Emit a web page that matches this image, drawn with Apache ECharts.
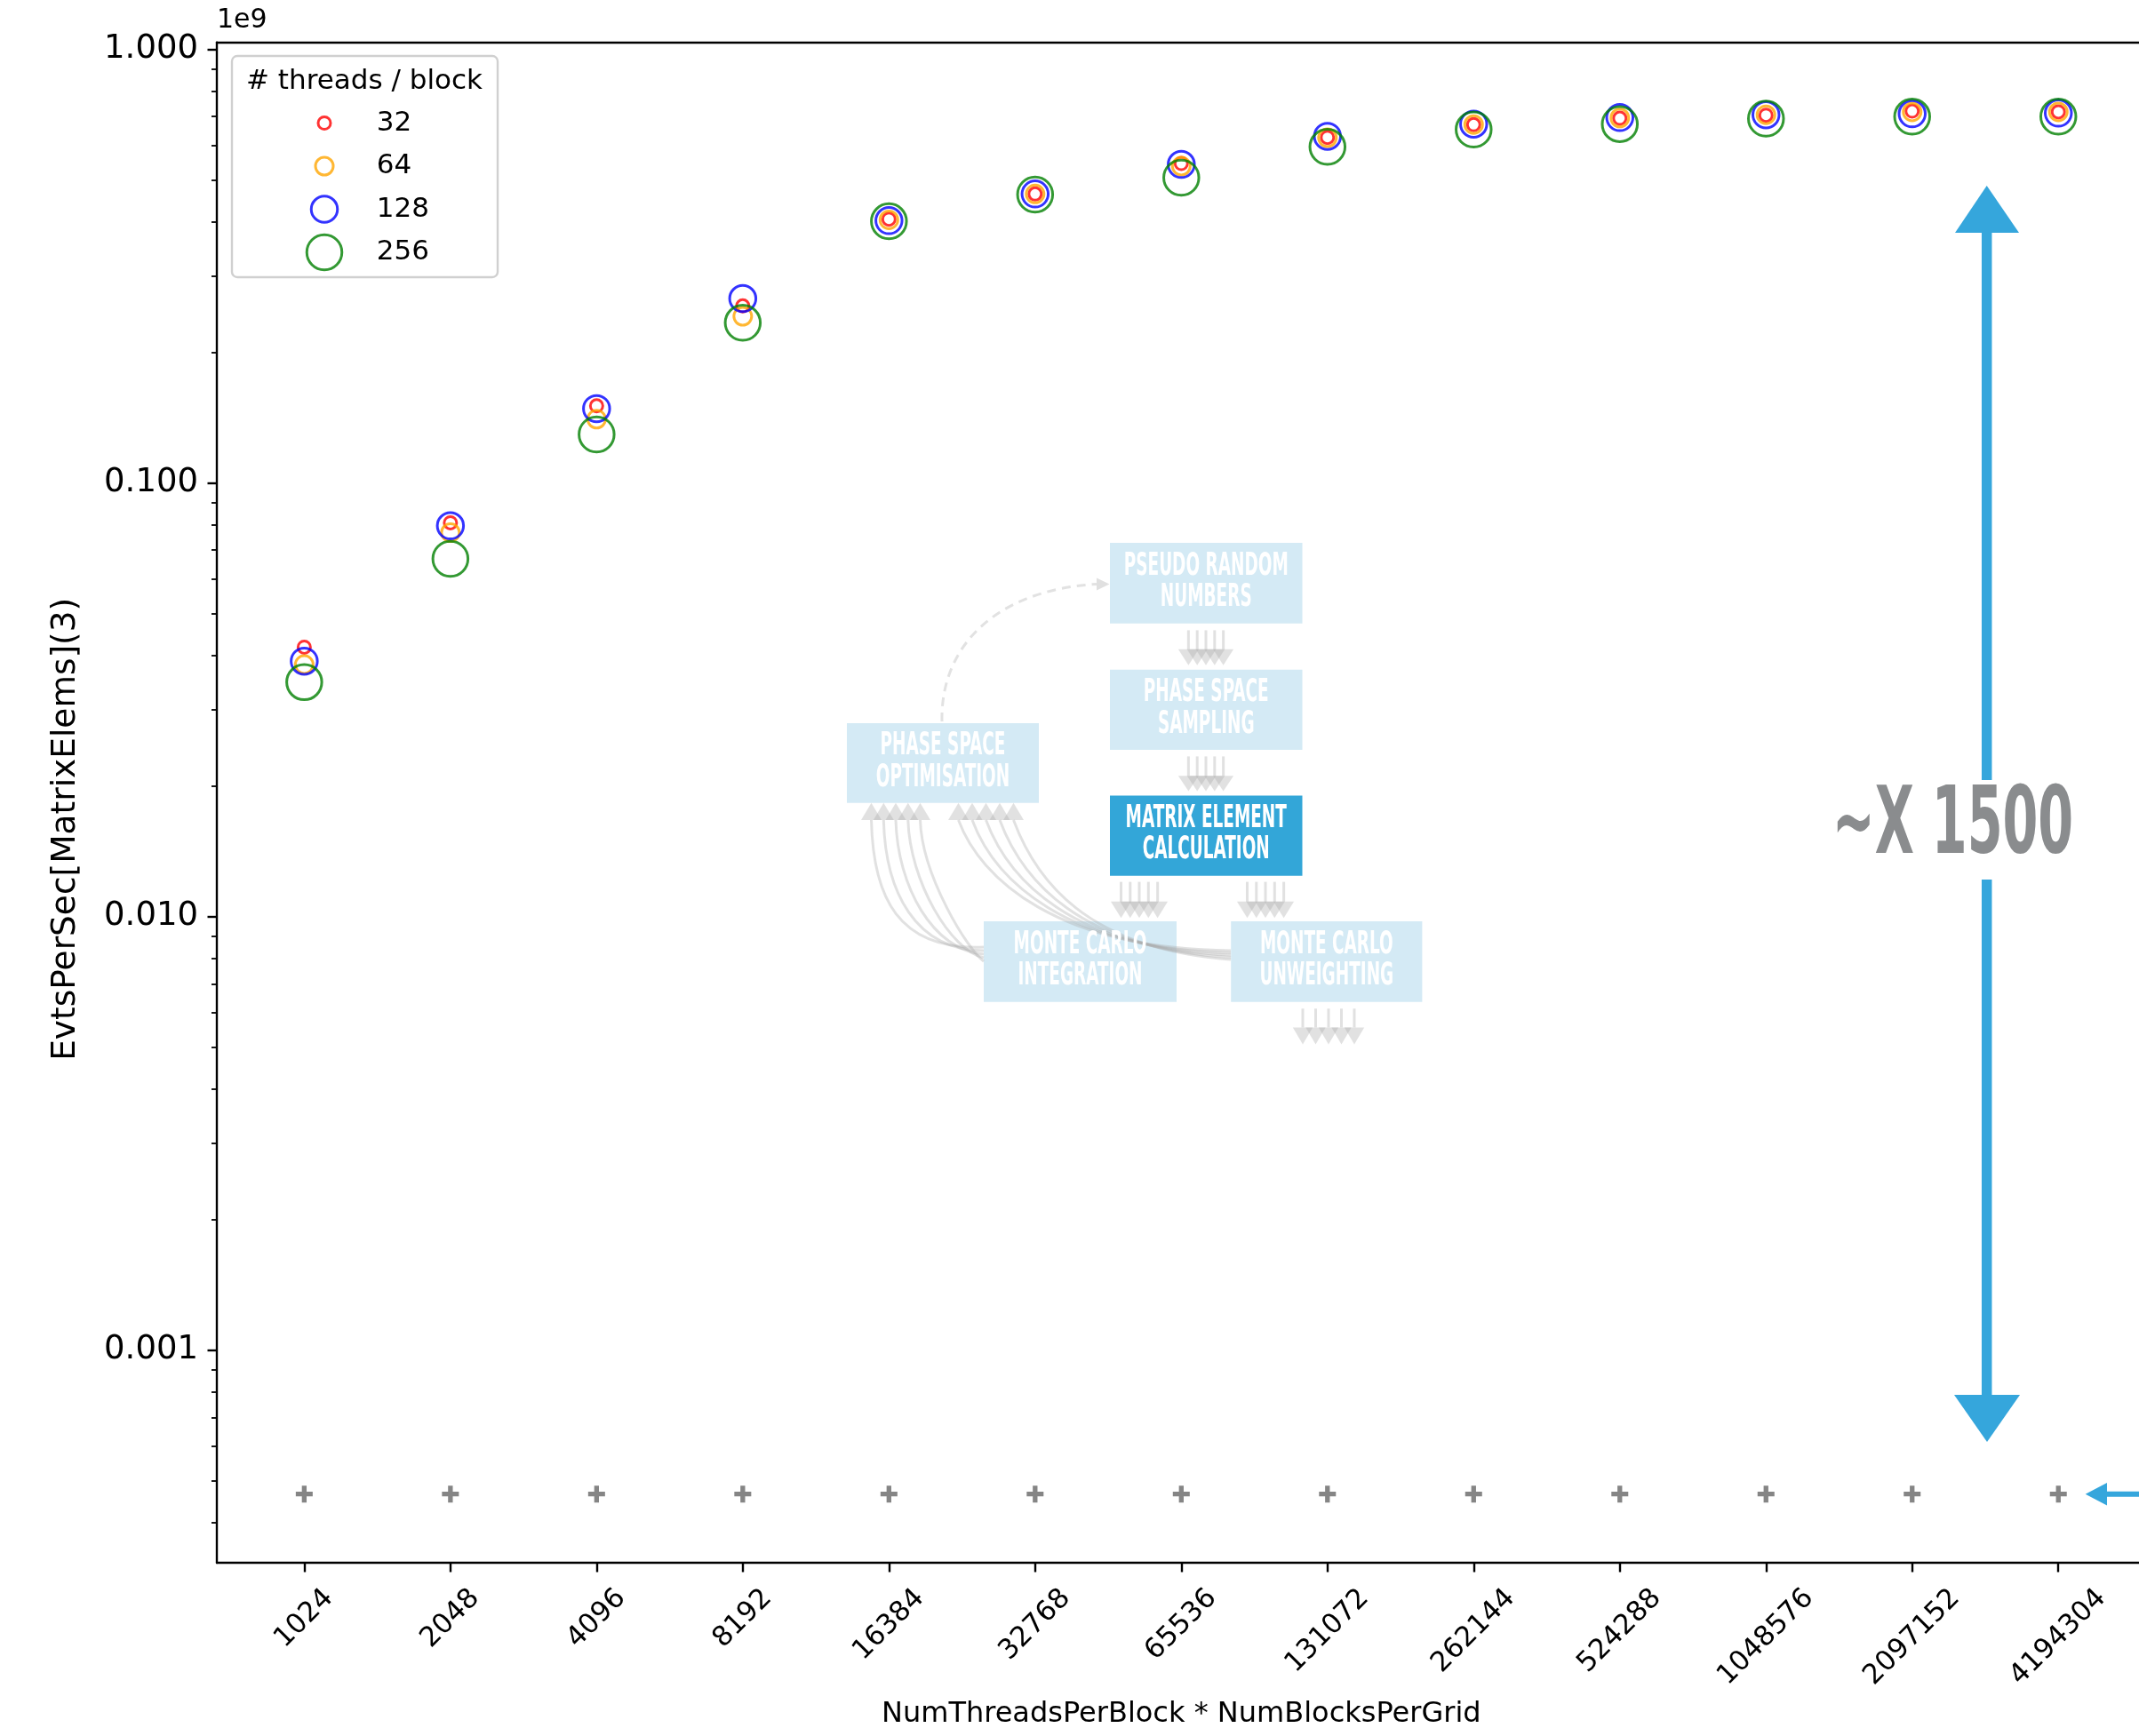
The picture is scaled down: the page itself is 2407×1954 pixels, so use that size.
<!DOCTYPE html>
<html>
<head>
<meta charset="utf-8">
<script src="https://cdn.jsdelivr.net/npm/echarts@6/dist/echarts.min.js"></script>
<style>
html, body { margin: 0; padding: 0; background: #fff; }
#main { width: 2407px; height: 1954px; }
</style>
</head>
<body>
<div id="main"></div>
<script>
// problem sizes (NumThreadsPerBlock * NumBlocksPerGrid)
var categories = ['1024', '2048', '4096', '8192', '16384', '32768', '65536',
  '131072', '262144', '524288', '1048576', '2097152', '4194304'];

// EvtsPerSec[MatrixElems](3), in units of 1e9, one list per threads/block
var evts32  = [0.0418, 0.0809, 0.1505, 0.2558, 0.4054, 0.4634, 0.5447, 0.6259, 0.6696, 0.6931, 0.7040, 0.7196, 0.7166];
var evts64  = [0.0381, 0.0768, 0.1402, 0.2421, 0.4040, 0.4634, 0.5372, 0.6248, 0.6700, 0.6940, 0.7056, 0.7168, 0.7168];
var evts128 = [0.0388, 0.0796, 0.1483, 0.2660, 0.4023, 0.4634, 0.5422, 0.6296, 0.6716, 0.6955, 0.7056, 0.7096, 0.7121];
var evts256 = [0.0347, 0.0668, 0.1293, 0.2339, 0.4010, 0.4620, 0.5054, 0.5952, 0.6526, 0.6716, 0.6915, 0.6987, 0.6990];
// single-thread CPU reference (the "+" row)
var evtsCpu = [0.000466, 0.000466, 0.000466, 0.000466, 0.000466, 0.000466, 0.000466,
  0.000466, 0.000466, 0.000466, 0.000466, 0.000466, 0.000466];

var threadNames = ['32', '64', '128', '256'];
var yMajorTicks = [0.001, 0.01, 0.1, 1];
var yMinorTicks = [0.0004, 0.0005, 0.0006, 0.0007, 0.0008, 0.0009,
  0.002, 0.003, 0.004, 0.005, 0.006, 0.007, 0.008, 0.009,
  0.02, 0.03, 0.04, 0.05, 0.06, 0.07, 0.08, 0.09,
  0.2, 0.3, 0.4, 0.5, 0.6, 0.7, 0.8, 0.9];

var chart = echarts.init(document.getElementById('main'), null, { renderer: 'canvas' });

var FONT = 'DejaVu Sans';
var NARROW = '"DejaVu Sans Condensed", sans-serif';
var colors = ['#ff0000', '#ffa500', '#0000ff', '#008000'];
var sizes = [14, 20, 29.5, 39.5];
var seriesData = [evts32, evts64, evts128, evts256];

var xIdx = categories.map(function (c, i) { return i; });
var XMIN = -0.598, XMAX = 12.598;
var YMIN = 3.236e-4, YMAX = 1.037;

// shift longer rotated labels down so the tops line up (like matplotlib)
var rich = {};
[4, 5, 6, 7].forEach(function (n) {
  var p = 9.86 * (n - 4);
  rich['r' + n] = { fontSize: 31, fontFamily: FONT, color: '#000', padding: [p, p, 0, 0] };
});

var series = seriesData.map(function (arr, k) {
  return {
    type: 'scatter',
    name: threadNames[k],
    data: arr.map(function (v, i) { return [i, v]; }),
    symbol: 'circle',
    symbolSize: sizes[k],
    itemStyle: { color: 'rgba(0,0,0,0)', borderColor: colors[k], borderWidth: 3 },
    z: 3 + k
  };
});
series.push({
  type: 'scatter',
  name: 'cpu',
  data: evtsCpu.map(function (v, i) { return [i, v]; }),
  symbol: 'path://M3.6,0H6.4V3.6H10V6.4H6.4V10H3.6V6.4H0V3.6H3.6Z',
  symbolSize: 19,
  itemStyle: { color: '#666666' },
  z: 3
});

// legend: one component per entry so each circle keeps its own size
var legendRows = [138.5, 187, 235.5, 284];
var legends = threadNames.map(function (name, k) {
  var d = sizes[k];
  var h = Math.max(d + 3, 31);
  return {
    data: [{ name: name, icon: 'circle',
      itemStyle: { color: 'rgba(0,0,0,0)', borderColor: colors[k], borderWidth: 3 } }],
    left: 365 - d / 2 - 1.5,
    top: legendRows[k] - h / 2,
    padding: 0,
    itemWidth: d,
    itemHeight: d,
    selectedMode: false,
    textStyle: { fontSize: 31, fontFamily: FONT, color: '#000', lineHeight: 31,
      padding: [0, 0, 0, 53.7 - d / 2] }
  };
});

// ---- overlay drawing (workflow diagram + annotation) ----
var graphics = [];
var LIGHT = '#d4eaf5', DARK = '#33a6d8';
var ARROW_GREY = 'rgba(170,170,170,0.35)';

function box(x, y, w, h, fill, txt) {
  graphics.push({ type: 'rect', shape: { x: x, y: y, width: w, height: h },
    style: { fill: fill }, z: 10 });
  graphics.push({ type: 'text', x: x + w / 2, y: y + h / 2 - 1, scaleX: 0.82, scaleY: 1.4, z: 12,
    style: { text: txt, fill: '#ffffff', fontSize: 25, fontWeight: 'bold', fontFamily: NARROW,
      align: 'center', verticalAlign: 'middle', lineHeight: 25.2 } });
}
function arrowStack(xs, yTop, yBase, yTip, headW) {
  xs.forEach(function (x) {
    graphics.push({ type: 'line', shape: { x1: x, y1: yTop, x2: x, y2: yBase },
      style: { stroke: ARROW_GREY, lineWidth: 3 }, z: 11 });
    graphics.push({ type: 'polygon',
      shape: { points: [[x - headW / 2, yBase], [x + headW / 2, yBase], [x, yTip]] },
      style: { fill: ARROW_GREY }, z: 11 });
  });
}
function upHead(x, yTip, yBase, headW) {
  graphics.push({ type: 'polygon',
    shape: { points: [[x - headW / 2, yBase], [x + headW / 2, yBase], [x, yTip]] },
    style: { fill: ARROW_GREY }, z: 11 });
}
function curve(x1, y1, c1x, c1y, c2x, c2y, x2, y2, dash) {
  graphics.push({ type: 'bezierCurve',
    shape: { x1: x1, y1: y1, cpx1: c1x, cpy1: c1y, cpx2: c2x, cpy2: c2y, x2: x2, y2: y2 },
    style: { stroke: dash ? '#e2e2e2' : ARROW_GREY, lineWidth: 3, fill: null,
      lineDash: dash ? [10, 7] : null }, z: 11 });
}

box(1249, 611, 216.5, 90.7, LIGHT, 'PSEUDO RANDOM\nNUMBERS');
box(1249, 753.8, 216.5, 90.2, LIGHT, 'PHASE SPACE\nSAMPLING');
box(1249, 895.4, 216.5, 90.3, DARK, 'MATRIX ELEMENT\nCALCULATION');
box(953, 813.9, 216, 89.9, LIGHT, 'PHASE SPACE\nOPTIMISATION');
box(1107, 1037, 217, 90.7, LIGHT, 'MONTE CARLO\nINTEGRATION');
box(1385.2, 1037, 215.2, 90.7, LIGHT, 'MONTE CARLO\nUNWEIGHTING');

arrowStack([1337.4, 1347.2, 1357, 1366.8, 1376.6], 709.4, 730.8, 748.8, 23);
arrowStack([1337.4, 1347.2, 1357, 1366.8, 1376.6], 851.4, 873.2, 890.4, 23);
arrowStack([1261.5, 1271.8, 1282, 1292.3, 1302.6], 992.6, 1014.8, 1033.2, 23);
arrowStack([1403.5, 1413.8, 1424, 1434.3, 1444.6], 992.6, 1014.8, 1033.2, 23);
arrowStack([1466, 1480.5, 1495, 1509.5, 1524], 1135.3, 1156.4, 1175.5, 22.4);

[980.5, 994.3, 1008, 1021.8, 1035.5].forEach(function (x, k) {
  upHead(x, 903.8, 923, 23);
  curve(x, 923, x + 2, 1010 - k * 6, x + 30 + k * 6, 1070, 1107, 1066 + k * 4);
});
[1078.5, 1094, 1109.5, 1125, 1140.5].forEach(function (x, k) {
  upHead(x, 903.8, 923, 23);
  curve(x, 923, x + 25, 990, 1190 + k * 8, 1068, 1385, 1070 + k * 2.5);
});
curve(1060, 812, 1058, 728, 1120, 664, 1234, 657.5, true);
graphics.push({ type: 'polygon', shape: { points: [[1234, 650.5], [1234, 664.5], [1248.5, 657.5]] },
  style: { fill: '#e0e0e0' }, z: 11 });

// ~X 1500 annotation with the blue double arrow
var BLUE = '#35a6dc';
graphics.push({ type: 'line', shape: { x1: 2235.7, y1: 255, x2: 2235.7, y2: 878 },
  style: { stroke: BLUE, lineWidth: 11.5 }, z: 10 });
graphics.push({ type: 'polygon', shape: { points: [[2235.7, 209], [2200, 262], [2272, 262]] },
  style: { fill: BLUE }, z: 10 });
graphics.push({ type: 'line', shape: { x1: 2235.7, y1: 990, x2: 2235.7, y2: 1575 },
  style: { stroke: BLUE, lineWidth: 11.5 }, z: 10 });
graphics.push({ type: 'polygon', shape: { points: [[2199, 1570], [2273, 1570], [2236, 1623]] },
  style: { fill: BLUE }, z: 10 });
graphics.push({ type: 'text', x: 2197.5, y: 933, scaleX: 0.74, scaleY: 1.22, z: 12,
  style: { text: '~X 1500', fill: '#8a8c8e', fontSize: 86, fontWeight: 'bold', fontFamily: NARROW,
    align: 'center', verticalAlign: 'middle' } });
graphics.push({ type: 'polygon', shape: { points: [[2346.7, 1681.7], [2371, 1669], [2371, 1694.5]] },
  style: { fill: BLUE }, z: 10 });
graphics.push({ type: 'line', shape: { x1: 2368, y1: 1681.7, x2: 2410, y2: 1681.7 },
  style: { stroke: BLUE, lineWidth: 6 }, z: 10 });

// legend frame and title
graphics.push({ type: 'rect', shape: { x: 261, y: 63, width: 299, height: 249, r: 6 },
  style: { fill: 'rgba(255,255,255,0.8)', stroke: '#d0d0d0', lineWidth: 2.4 }, z: 1 });
graphics.push({ type: 'text', x: 410, y: 91.5, z: 2,
  style: { text: '# threads / block', fill: '#000', fontSize: 31, fontFamily: FONT,
    align: 'center', verticalAlign: 'middle' } });

var option = {
  animation: false,
  backgroundColor: '#ffffff',
  grid: { left: 244, top: 47.6, width: 2170.6, height: 1711.4, containLabel: false, outerBoundsMode: 'none' },
  legend: legends,
  xAxis: [{
    type: 'value', min: XMIN, max: XMAX, position: 'bottom',
    name: 'NumThreadsPerBlock * NumBlocksPerGrid', nameLocation: 'middle', nameGap: 155,
    nameTextStyle: { fontSize: 32, fontFamily: FONT, color: '#000' },
    axisLine: { onZero: false, lineStyle: { color: '#000', width: 2.4 } },
    axisTick: { customValues: xIdx, length: 10.5, lineStyle: { color: '#000', width: 2.4 } },
    axisLabel: {
      customValues: xIdx, rotate: 45, align: 'center', verticalAlign: 'middle', margin: 63,
      fontSize: 31, fontFamily: FONT, color: '#000', rich: rich,
      formatter: function (v) {
        var s = categories[Math.round(v)];
        return '{r' + s.length + '|' + s + '}';
      }
    },
    splitLine: { show: false }
  }, {
    type: 'value', min: XMIN, max: XMAX, position: 'top',
    axisLine: { onZero: false, lineStyle: { color: '#000', width: 2.4 } },
    axisTick: { show: false }, axisLabel: { show: false }, splitLine: { show: false }
  }],
  yAxis: [{
    type: 'log', logBase: 10, min: YMIN, max: YMAX, position: 'left',
    name: '1e9', nameLocation: 'end', nameGap: 9,
    nameTextStyle: { fontSize: 30, fontFamily: FONT, color: '#000', align: 'left', verticalAlign: 'bottom' },
    axisLine: { show: true, onZero: false, lineStyle: { color: '#000', width: 2.4 } },
    axisTick: { customValues: yMajorTicks, length: 10.5, lineStyle: { color: '#000', width: 2.4 } },
    axisLabel: { customValues: yMajorTicks, margin: 21, fontSize: 37, fontFamily: FONT, color: '#000',
      formatter: function (v) { return Number(v).toFixed(3); } },
    splitLine: { show: false }, minorTick: { show: false }
  }, {
    type: 'log', logBase: 10, min: YMIN, max: YMAX, position: 'left',
    name: 'EvtsPerSec[MatrixElems](3)', nameLocation: 'middle', nameGap: 151,
    nameTextStyle: { fontSize: 37.5, fontFamily: FONT, color: '#000', padding: [0, 60, 0, 0] },
    axisLine: { show: false, onZero: false },
    axisTick: { customValues: yMinorTicks, length: 6, lineStyle: { color: '#000', width: 1.8 } },
    axisLabel: { show: false }, splitLine: { show: false }
  }],
  graphic: graphics,
  series: series
};

chart.setOption(option);
</script>
</body>
</html>
